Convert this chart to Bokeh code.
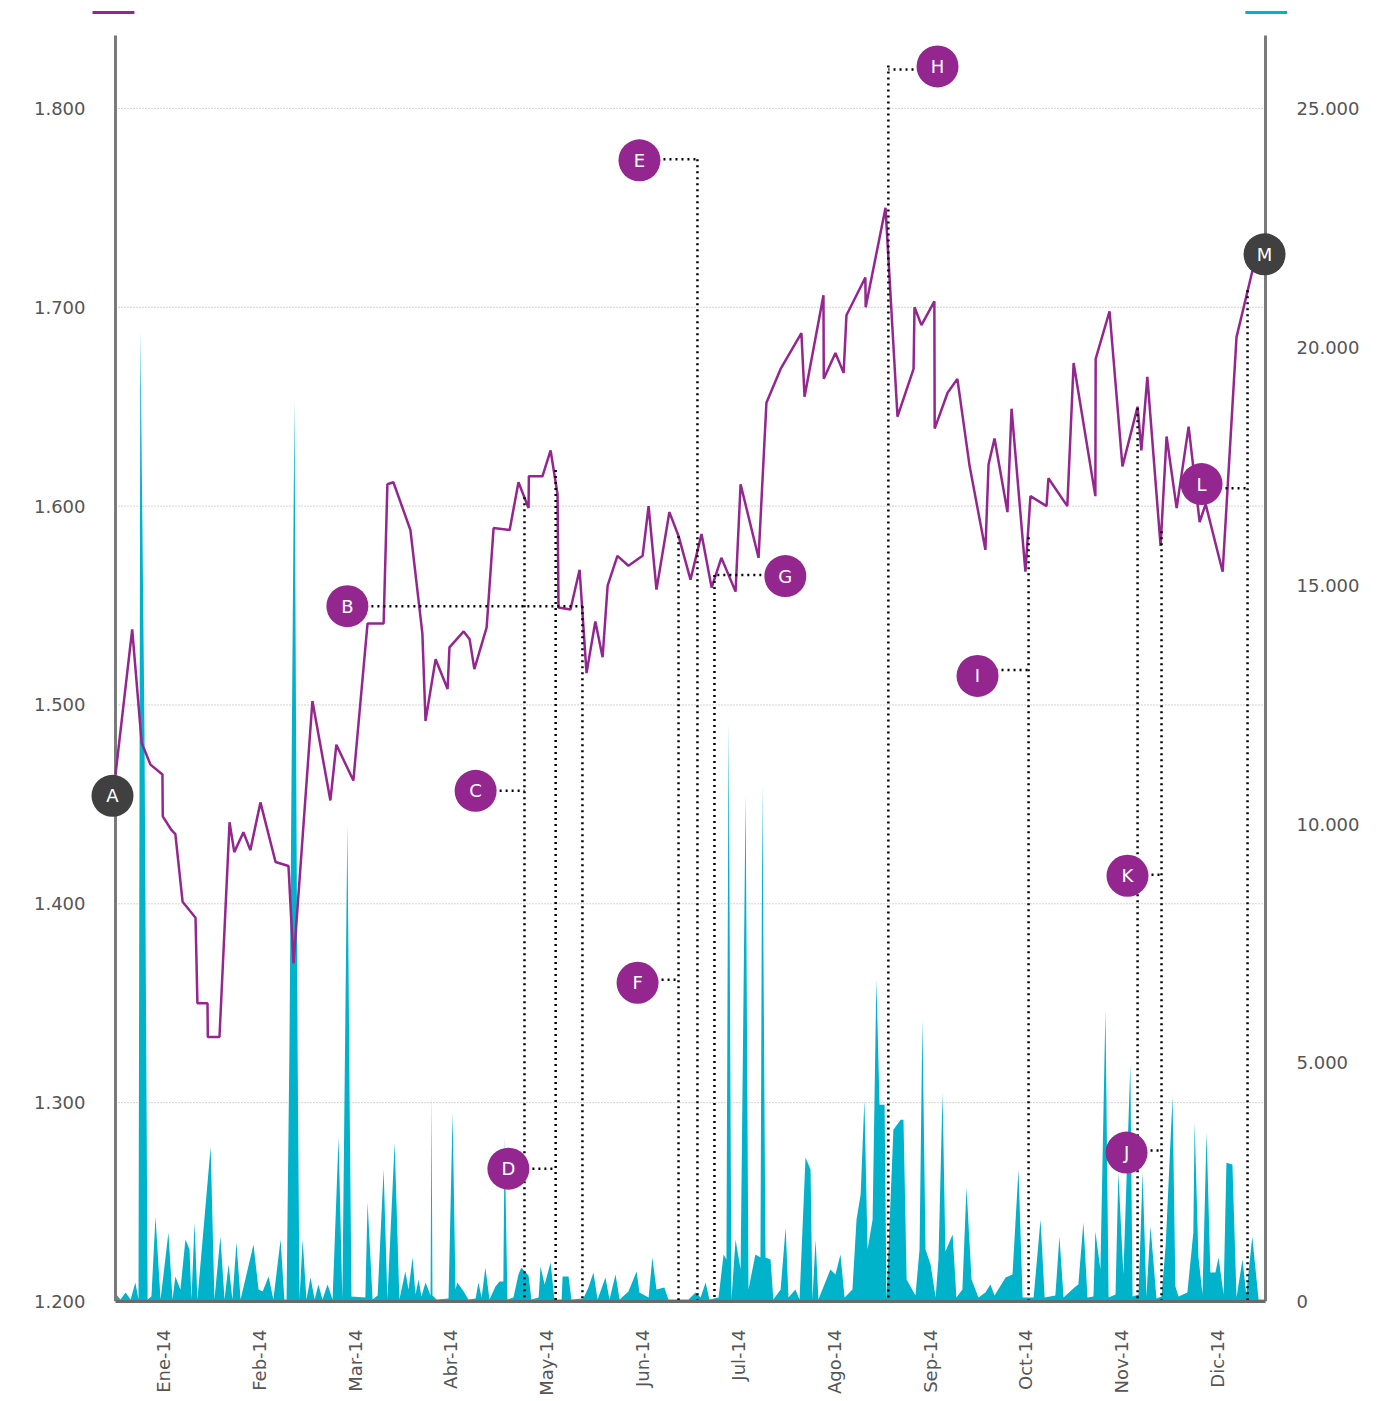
import math
from bokeh.plotting import figure
from bokeh.models import Range1d, LinearAxis, FixedTicker
from bokeh.core.properties import value
from bokeh.embed import file_html
from bokeh.resources import INLINE

FONT = "DejaVu Sans"
PURPLE = "#93278F"
DARK = "#404040"
CYAN = "#00B2CA"
LABEL_GREY = "#555555"

# ---------------- data ----------------
months = ["Ene-14", "Feb-14", "Mar-14", "Abr-14", "May-14", "Jun-14",
          "Jul-14", "Ago-14", "Sep-14", "Oct-14", "Nov-14", "Dic-14"]
month_ticks = [round((i + 0.5) * 365 / 12, 2) for i in range(12)]

price_ticks = [1200, 1300, 1400, 1500, 1600, 1700, 1800]
vol_ticks = [0, 5000, 10000, 15000, 20000, 25000]

price_day = [0, 5.3, 8.3, 11.1, 14.9, 15.0, 17.8, 19.0, 21.3, 25.4,
             26.0, 29.2, 29.3, 33.0, 36.2, 37.7, 40.6, 42.8, 46.0, 50.8,
             54.9, 56.5, 62.5, 68.2, 70.1, 75.5, 80.0, 85.1, 86.3, 88.2,
             93.6, 97.4, 98.4, 101.6, 105.4, 106.0, 110.5, 112.4, 113.9, 117.8,
             120.0, 125.1, 127.9, 131.1, 131.2, 135.5, 138.1, 140.3, 140.6, 144.4,
             147.3, 149.5, 152.3, 154.6, 156.2, 159.3, 162.8, 167.3, 169.2, 171.7,
             175.8, 178.7, 182.5, 186.0, 189.2, 192.3, 196.8, 198.4, 204.1, 206.6,
             211.1, 217.7, 218.7, 224.7, 224.8, 228.5, 231.1, 232.0, 238.0, 238.1,
             244.4, 248.2, 253.3, 253.6, 255.8, 259.9, 260.0, 264.1, 267.2, 271.1,
             276.1, 277.1, 279.0, 283.1, 284.4, 288.8, 290.4, 295.5, 296.1, 302.1,
             304.1, 311.0, 311.1, 315.5, 319.6, 324.4, 325.6, 327.5, 331.7, 333.6,
             336.8, 340.6, 344.1, 346.0, 351.4, 355.8, 360.8, 362.8]
price = [1465, 1538, 1481, 1470, 1465, 1444, 1437, 1435, 1401, 1393,
         1350, 1350, 1333, 1333, 1441, 1426, 1436, 1427, 1451, 1421,
         1419, 1370, 1502, 1452, 1480, 1462, 1541, 1541, 1611, 1612,
         1588, 1536, 1492, 1523, 1508, 1529, 1537, 1533, 1518, 1539,
         1589, 1588, 1612, 1599, 1615, 1615, 1628, 1606, 1549, 1548,
         1568, 1516, 1542, 1524, 1560, 1575, 1570, 1575, 1600, 1558,
         1597, 1585, 1563, 1586, 1559, 1574, 1557, 1611, 1574, 1652,
         1669, 1687, 1655, 1706, 1664, 1677, 1667, 1696, 1715, 1700,
         1750, 1645, 1669, 1700, 1691, 1703, 1639, 1657, 1664, 1620,
         1578, 1621, 1634, 1597, 1649, 1567, 1605, 1600, 1614, 1600,
         1672, 1605, 1674, 1698, 1620, 1650, 1628, 1665, 1580, 1635,
         1599, 1640, 1592, 1601, 1567, 1685, 1718, 1723]

vol_day = [0, 1.6, 3.2, 4.8, 6.3, 7.3, 7.9, 9.2, 10.2, 11.4,
           12.7, 14.3, 16.8, 18.1, 19.0, 20.6, 22.2, 23.5, 24.1, 25.1,
           26.0, 30.2, 31.4, 33.3, 34.6, 35.9, 37.1, 38.4, 39.7, 43.8,
           45.4, 46.7, 48.6, 50.1, 52.4, 53.6, 54.3, 55.2, 56.8, 57.8,
           58.4, 59.4, 60.6, 61.9, 63.2, 64.4, 65.7, 67.3, 68.9, 70.8,
           72.0, 73.6, 74.3, 74.9, 79.3, 80.0, 81.6, 83.2, 85.1, 86.3,
           88.6, 90.1, 92.0, 93.0, 94.3, 95.2, 96.2, 97.1, 98.4, 100.0,
           100.3, 100.6, 101.9, 105.7, 107.0, 107.9, 108.5, 110.5, 112.0, 114.3,
           115.2, 116.2, 117.4, 118.7, 120.6, 121.9, 123.1, 123.5, 124.4, 126.3,
           127.9, 128.8, 131.1, 132.0, 134.3, 134.9, 136.2, 138.1, 139.3, 141.6,
           141.9, 143.8, 144.7, 148.5, 150.1, 151.7, 153.0, 155.5, 156.8, 158.7,
           160.0, 162.8, 165.4, 166.3, 169.2, 170.4, 171.7, 174.2, 175.5, 181.9,
           184.1, 185.7, 187.3, 188.5, 191.4, 193.0, 193.9, 194.6, 195.5, 196.8,
           198.4, 200.0, 200.9, 203.1, 204.7, 205.3, 206.3, 207.9, 208.8, 211.1,
           212.7, 213.6, 215.8, 217.1, 219.0, 220.6, 221.2, 222.2, 223.1, 226.9,
           228.5, 230.1, 231.4, 233.9, 235.2, 236.5, 237.7, 238.7, 240.3, 241.5,
           242.5, 244.1, 244.7, 246.9, 249.2, 250.1, 251.1, 253.9, 255.2, 256.1,
           257.1, 258.7, 260.3, 261.2, 262.5, 263.4, 265.7, 266.9, 268.8, 270.1,
           271.7, 273.9, 276.1, 277.7, 279.0, 282.5, 284.7, 286.6, 287.9, 291.4,
           293.6, 294.9, 298.3, 299.6, 300.9, 304.7, 305.6, 307.2, 308.5, 310.4,
           311.0, 312.6, 314.2, 315.2, 317.4, 318.3, 319.9, 322.1, 322.8, 324.7,
           326.0, 327.2, 328.5, 330.4, 332.0, 333.3, 335.5, 336.4, 337.4, 340.2,
           342.1, 342.5, 343.7, 345.0, 346.3, 347.5, 349.1, 350.1, 351.7, 352.6,
           354.5, 355.8, 357.7, 358.9, 360.8, 362.8, 365.0]
volume = [168, 42, 188, 42, 398, 42, 20352, 11977, 42, 105,
          1780, 42, 1445, 42, 523, 251, 1298, 1089, 42, 1654,
          42, 3245, 42, 1361, 42, 775, 42, 1235, 42, 1193,
          251, 209, 523, 42, 1298, 42, 42, 5276, 18886, 5276,
          42, 1298, 42, 503, 42, 356, 42, 356, 42, 3434,
          42, 9987, 4229, 105, 84, 2073, 42, 126, 2764, 42,
          3329, 42, 628, 251, 921, 147, 461, 105, 398, 126,
          4376, 126, 42, 63, 3957, 251, 398, 209, 42, 63,
          398, 84, 712, 42, 314, 419, 419, 3434, 42, 84,
          565, 712, 544, 42, 84, 733, 356, 817, 42, 42,
          523, 523, 42, 63, 293, 607, 42, 503, 42, 565,
          42, 209, 628, 188, 84, 921, 251, 293, 42, 42,
          188, 84, 398, 42, 84, 984, 879, 12144, 42, 1298,
          670, 10616, 251, 984, 921, 10825, 921, 879, 42, 251,
          1549, 84, 251, 42, 3015, 2764, 42, 1298, 42, 670,
          565, 984, 84, 251, 1717, 2240, 4229, 1089, 1717, 6742,
          4125, 4125, 42, 3601, 3811, 3811, 461, 126, 1089, 5905,
          1089, 775, 84, 879, 4376, 1047, 1403, 84, 251, 2387,
          461, 84, 188, 356, 126, 503, 565, 2764, 84, 84,
          1717, 84, 126, 1361, 84, 314, 356, 1654, 84, 105,
          1466, 670, 6114, 84, 147, 2701, 565, 4962, 105, 147,
          2701, 105, 1570, 63, 105, 1152, 4292, 314, 105, 188,
          1445, 3748, 942, 147, 3539, 607, 607, 921, 147, 2910,
          2869, 84, 879, 147, 1361, 42, 42]

# annotation bubbles
ann_label = ["A", "B", "C", "D", "E", "F", "G", "H", "I", "J", "K", "L", "M"]
ann_day = [-0.95, 73.6, 114.3, 124.7, 166.3, 165.7, 212.6, 260.9, 273.6, 320.9, 321.2, 344.7, 364.7]
ann_price = [1454.3, 1549.7, 1456.8, 1266.8, 1773.9, 1360.3, 1564.8, 1821.1, 1514.6, 1274.9, 1414.1, 1611.1, 1726.6]
ann_dark = [True, False, False, False, False, False, False, False, False, False, False, False, True]

# event markers (vertical dotted lines from price level down to the base)
event_day = [129.8, 139.7, 148.2, 178.7, 184.7, 190.1, 245.3, 289.8, 324.4, 332.0, 359.3]
event_top = [1604.5, 1618.1, 1549.7, 1584.9, 1774.4, 1565.3, 1821.6, 1584.4, 1649.2, 1587.4, 1708.5]

# horizontal connectors bubble -> event line
conn_from = [73.6, 114.3, 124.7, 166.3, 165.7, 212.6, 260.9, 273.6, 320.9, 321.2, 344.7]
conn_to = [148.2, 129.8, 139.7, 184.7, 178.7, 190.1, 245.3, 289.8, 332.0, 332.0, 359.3]
conn_level = [1549.7, 1456.8, 1266.8, 1774.4, 1361.8, 1565.3, 1819.6, 1517.6, 1275.9, 1414.6, 1609.0]


def es_num(n):
    return f"{n:,}".replace(",", ".")


# ---------------- figure ----------------
DAY0, DAY1 = 0, 365
AXIS_TOP = 1836.7
SWATCH_LEVEL = 1848.2

p = figure(width=1388, height=1398, output_backend="svg", toolbar_location=None,
           title=None,
           x_range=Range1d(-8.5695, 373.5695), y_range=Range1d(1200, 1850.25),
           min_border_left=88, min_border_right=96, min_border_top=8, min_border_bottom=96,
           outline_line_color=None, background_fill_color="white", border_fill_color="white")
p.xgrid.visible = False
p.ygrid.visible = False
p.extra_y_ranges = {"vol": Range1d(0, 27094)}

# bottom axis
xa = p.xaxis[0]
xa.ticker = FixedTicker(ticks=month_ticks)
xa.major_label_overrides = {t: m for t, m in zip(month_ticks, months)}
xa.major_label_orientation = math.pi / 2
xa.major_label_standoff = 28
xa.major_tick_line_color = None
xa.minor_tick_line_color = None
xa.major_tick_out = 0
xa.major_tick_in = 0
xa.axis_line_color = "#6a6a6a"
xa.axis_line_width = 3
xa.bounds = (DAY0, DAY1)
xa.major_label_text_font = FONT
xa.major_label_text_font_size = "18px"
xa.major_label_text_color = LABEL_GREY

# left axis
ya = p.yaxis[0]
ya.ticker = FixedTicker(ticks=price_ticks)
ya.major_label_overrides = {t: es_num(t) for t in price_ticks}
ya.axis_line_color = None
ya.major_tick_line_color = None
ya.minor_tick_line_color = None
ya.major_tick_out = 0
ya.major_tick_in = 0
ya.major_label_standoff = 3
ya.major_label_text_font = FONT
ya.major_label_text_font_size = "18px"
ya.major_label_text_color = LABEL_GREY

# right axis
ra = LinearAxis(y_range_name="vol", ticker=FixedTicker(ticks=vol_ticks),
                major_label_overrides={t: es_num(t) for t in vol_ticks},
                axis_line_color=None, major_tick_line_color=None, minor_tick_line_color=None,
                major_tick_out=0, major_tick_in=0, major_label_standoff=4,
                major_label_text_font=FONT, major_label_text_font_size="18px",
                major_label_text_color=LABEL_GREY)
p.add_layout(ra, "right")

# grid lines (at left-axis ticks)
grid_levels = [t for t in price_ticks if t > price_ticks[0]]
p.segment(x0=[DAY0] * len(grid_levels), x1=[DAY1] * len(grid_levels),
          y0=grid_levels, y1=grid_levels,
          line_color="#a8a8a8", line_width=1, line_dash="1 2")

# volume area
p.varea(x=vol_day, y1=[0] * len(volume), y2=volume, y_range_name="vol",
        fill_color=CYAN, fill_alpha=1.0)

# vertical axis lines
p.segment(x0=[DAY0, DAY1], x1=[DAY0, DAY1], y0=[price_ticks[0]] * 2, y1=[AXIS_TOP] * 2,
          line_color="#7a7a7a", line_width=3)

# legend swatches
p.segment(x0=[-7.3, 358.6], x1=[6.0, 371.9], y0=[SWATCH_LEVEL] * 2, y1=[SWATCH_LEVEL] * 2,
          line_color=[PURPLE, CYAN], line_width=3)

# price line
p.line(price_day, price, line_color=PURPLE, line_width=2.5)

# connectors
p.segment(x0=event_day, x1=event_day, y0=event_top, y1=[price_ticks[0]] * len(event_day),
          line_color="black", line_width=2.5, line_dash="2 4")
p.segment(x0=conn_from, x1=conn_to, y0=conn_level, y1=conn_level,
          line_color="black", line_width=2.5, line_dash="2 4")

# bubbles
ann_color = [DARK if d else PURPLE for d in ann_dark]
p.scatter(ann_day, ann_price, size=42, fill_color=ann_color, line_color=None)
p.text(ann_day, ann_price, text=ann_label, text_align="center", text_baseline="middle",
       text_color="white", text_font=value(FONT), text_font_size="18px")

open("out.html", "w").write(file_html(p, INLINE))
